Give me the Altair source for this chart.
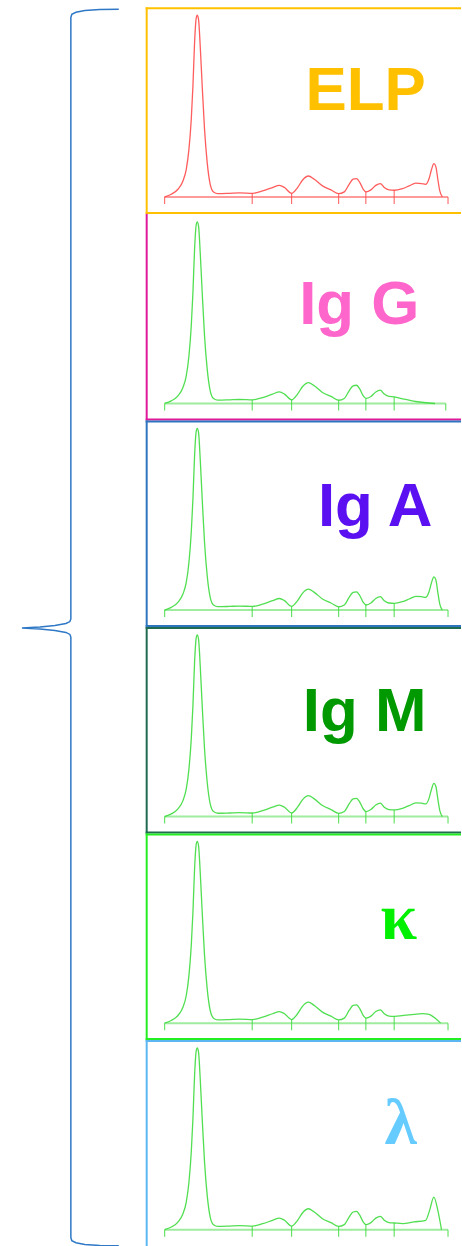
import altair as alt
import numpy as np
import pandas as pd

# ---- densitometry traces (relative mobility 0-100, relative absorbance 0-100) ----
# shared front part of the trace: albumin peak and the alpha / beta region
front_x = [0, 2.35, 4.69, 6.46, 7.63, 8.57, 9.39, 9.98, 10.56, 11.15, 11.5, 11.97,
           12.56, 13.26, 14.08, 15.02, 16.08, 17.25, 18.78, 22.9, 26.4, 31.1, 34.6,
           38.1, 40.5, 42.3, 44.8, 46.9, 48.7, 50.7, 52.8, 55.7, 58.7, 61.4, 63.4,
           65.1, 66.5, 67.7, 68.9, 70.1, 71.1, 72.8, 74.5, 76.1, 77.5, 79.2, 81.0]
front_y = [0, 1.47, 4.24, 8.84, 15.3, 26.3, 42.9, 61.3, 85.3, 99.1, 100.6, 98.2,
           83.4, 61.3, 37.4, 19.0, 7.0, 2.76, 1.84, 2.0, 2.2, 2.0, 3.3,
           5.2, 6.4, 5.2, 2.0, 5.2, 9.4, 11.6, 9.8, 6.1, 3.9, 1.8, 2.8,
           7.0, 9.8, 10.1, 7.9, 4.2, 2.8, 3.9, 6.4, 7.4, 5.2, 3.9, 3.7]

# gamma region, one tail per lane type
tail_band_x = [83.9, 86.3, 88.6, 90.7, 92.1, 93.3, 94.2, 95.0, 95.7, 96.4, 97.1, 98.0]
tail_band_y = [4.6, 6.1, 7.6, 7.4, 7.0, 10.1, 15.3, 18.4, 16.8, 9.8, 3.3, 0]
tail_igg_x = [84.0, 88.6, 95.4]
tail_igg_y = [2.6, 1.1, 0]
tail_kappa_x = [85.1, 88.0, 91.0, 93.3, 95.7, 97.4]
tail_kappa_y = [4.4, 4.9, 5.3, 4.8, 2.4, 0]
tail_lambda_x = [84.0, 88.0, 92.1, 93.5, 95.0, 96.4, 97.7]
tail_lambda_y = [3.4, 4.3, 5.2, 10.7, 18.0, 10.7, 0]

# fraction boundaries along the baseline
ticks_std = [0, 30.9, 44.8, 61.4, 71.0, 81.0, 100]
ticks_igg = [0, 30.9, 44.8, 61.4, 71.0, 81.0, 99.2]

# lanes
lanes = ["ELP", "Ig G", "Ig A", "Ig M", "κ", "λ"]
lane_tails = [(tail_band_x, tail_band_y), (tail_igg_x, tail_igg_y),
              (tail_band_x, tail_band_y), (tail_band_x, tail_band_y),
              (tail_kappa_x, tail_kappa_y), (tail_lambda_x, tail_lambda_y)]
lane_ticks = [ticks_std, ticks_igg, ticks_std, ticks_std, ticks_std, ticks_std]
frame_colors = ["#FFC000", "#E0199B", "#2E75C0", "#1F6B50", "#22EE22", "#5CB6F2"]
label_colors = ["#FFC000", "#FF66CC", "#5A10F0", "#009900", "#00F000", "#66CCFF"]
trace_colors = ["#FF4B4B", "#3EDC3E", "#3EDC3E", "#3EDC3E", "#3EDC3E", "#3EDC3E"]
base_colors = ["#FF7A7A", "#7FE57F", "#7FE57F", "#7FE57F", "#7FE57F", "#7FE57F"]
label_x = [70.95, 68.7, 74.3, 70.6, 82.6, 83.3]
label_y = [48.1, 43.8, 46.8, 47.5, 46.6, 47.5]
label_font = ["Liberation Sans", "Liberation Sans", "Liberation Sans",
              "Liberation Sans", "Liberation Serif", "Liberation Serif"]
label_size = [62, 62, 62, 62, 66, 66]
# which sides of the lane frame are drawn
frame_top = [True, False, True, True, True, True]
frame_bottom = [True, True, True, True, True, False]

# curly brace grouping the lanes (normalised: x 0 = tip, y 0 = top)
brace_x = [1.0, 0.804, 0.649, 0.557, 0.515, 0.505, 0.505, 0.495, 0.454, 0.340,
           0.186, 0.0, 0.186, 0.340, 0.454, 0.495, 0.505, 0.505, 0.515, 0.557,
           0.649, 0.804, 1.0]
brace_y = [0.0, 0.0002, 0.001, 0.0024, 0.004, 0.0065, 0.4931, 0.4952, 0.4968,
           0.4984, 0.4996, 0.5004, 0.5012, 0.5024, 0.504, 0.5056, 0.5077, 0.9935,
           0.996, 0.9976, 0.999, 0.9998, 1.0]

PANEL_W, PANEL_H = 316, 207
BRACE_W = 146

x_scale = alt.Scale(domain=[-6.69, 104.58], nice=False, zero=False)
y_scale = alt.Scale(domain=[-9.39, 104.97], nice=False, zero=False)
TICK_DROP = -3.87


def lane_panel(i):
    tx, ty = lane_tails[i]
    xs = front_x + tx
    ys = front_y + ty
    trace = pd.DataFrame({"x": xs, "y": ys})
    X = alt.X("x:Q", scale=x_scale, axis=None)
    Y = alt.Y("y:Q", scale=y_scale, axis=None)

    ticks = lane_ticks[i]
    tick_df = pd.DataFrame({
        "x": ticks,
        "y": np.interp(ticks, xs, ys),
        "y2": [TICK_DROP] * len(ticks),
    })
    base_df = pd.DataFrame({"x": [ticks[0]], "x2": [ticks[-1]], "y": [0.0]})
    label_df = pd.DataFrame({"x": [label_x[i]], "y": [label_y[i]], "t": [lanes[i]]})
    one = pd.DataFrame({"k": [0]})

    baseline = alt.Chart(base_df).mark_rule(
        color=base_colors[i], strokeWidth=2, opacity=0.75
    ).encode(x=X, x2="x2:Q", y=Y)
    tick_marks = alt.Chart(tick_df).mark_rule(
        color=trace_colors[i], strokeWidth=1.1, opacity=0.85
    ).encode(x=X, y=Y, y2="y2:Q")
    line = alt.Chart(trace).mark_line(
        interpolate="monotone", color=trace_colors[i], strokeWidth=1.3, opacity=0.9
    ).encode(x=X, y=Y)
    label = alt.Chart(label_df).mark_text(
        font=label_font[i], fontSize=label_size[i], fontWeight="bold",
        color=label_colors[i], align="center", baseline="alphabetic"
    ).encode(x=X, y=Y, text="t:N")

    frame = [alt.Chart(one).mark_rule(color=frame_colors[i], strokeWidth=2).encode(
        x=alt.value(1), y=alt.value(0), y2=alt.value(PANEL_H))]
    if frame_top[i]:
        frame.append(alt.Chart(one).mark_rule(color=frame_colors[i], strokeWidth=2).encode(
            x=alt.value(0), x2=alt.value(PANEL_W), y=alt.value(1)))
    if frame_bottom[i]:
        frame.append(alt.Chart(one).mark_rule(color=frame_colors[i], strokeWidth=2).encode(
            x=alt.value(0), x2=alt.value(PANEL_W), y=alt.value(PANEL_H - 1)))

    return alt.layer(baseline, tick_marks, line, label, *frame).properties(
        width=PANEL_W, height=PANEL_H
    )


brace_df = pd.DataFrame({"bx": brace_x, "by": brace_y, "i": range(len(brace_x))})
brace = alt.Chart(brace_df).mark_line(color="#2E78C6", strokeWidth=1.5).encode(
    x=alt.X("bx:Q", scale=alt.Scale(domain=[-0.227, 1.278], nice=False, zero=False), axis=None),
    y=alt.Y("by:Q", scale=alt.Scale(domain=[-0.0016, 1.0008], nice=False, zero=False,
                                    reverse=True), axis=None),
    order="i:Q",
).properties(width=BRACE_W, height=PANEL_H * len(lanes))

stack = alt.vconcat(*[lane_panel(i) for i in range(len(lanes))], spacing=0, bounds="flush")

chart = alt.hconcat(brace, stack, spacing=0, bounds="flush").properties(
    padding={"left": 0, "top": 4, "right": 0, "bottom": 0},
    background="white",
).configure_view(strokeWidth=0)

chart.save("out.html", embed_options={"renderer": "svg", "actions": False})
